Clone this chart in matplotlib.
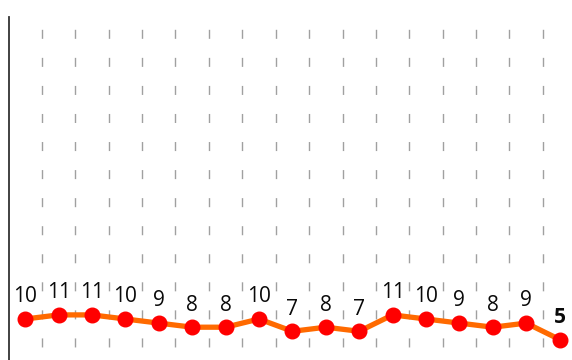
import numpy as np
import matplotlib.pyplot as plt

# daily counts along a categorical axis
categories = [str(i) for i in range(1, 18)]
values = [10, 11, 11, 10, 9, 8, 8, 10, 7, 8, 7, 11, 10, 9, 8, 9, 5]

fig = plt.figure(figsize=(5.72, 3.6), dpi=100)
W, H = 572.0, 360.0
step = 33.4
x_left = 8.5
ax = fig.add_axes([x_left / W, 0.0, 17 * step / W, (H - 17) / H])

x = np.arange(len(values))
ax.set_xlim(-0.5, len(values) - 0.5)
ax.set_ylim(0, 343 / 4.1)

# dashed separators between category bands
for b in x[:-1] + 0.5:
    ax.plot([b, b], [0, 343 / 4.1], color="#a0a0a0", lw=1.0,
            linestyle=(10.8, (6.5, 13.7)), zorder=1)

ax.plot(x, values, color="#ff6a00", lw=3.8, zorder=2)
ax.plot(x, values, "o", color="#ff0000", ms=10.5, mec="#ff0000", zorder=3)

for i, v in enumerate(values):
    last = i == len(values) - 1
    ax.annotate(str(v), (i, v), xytext=(0, 12), textcoords="offset points",
                ha="center", va="baseline", fontsize=15,
                fontweight="bold" if last else "normal",
                family="Open Sans", color="#0a0a0a", zorder=4)

for s in ["top", "right", "bottom"]:
    ax.spines[s].set_visible(False)
ax.spines["left"].set_color("#333333")
ax.spines["left"].set_linewidth(1.3)
ax.set_xticks([])
ax.set_yticks([])

fig.savefig("out.png", dpi=100)
